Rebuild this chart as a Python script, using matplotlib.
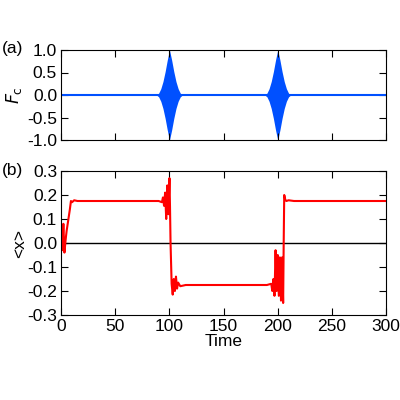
import numpy as np
import matplotlib.pyplot as plt

plt.rcParams['font.family'] = ['Liberation Sans', 'DejaVu Sans']
plt.rcParams['font.size'] = 12.5

# envelope of the driving pulses
pulse_centers = [100, 200]
pulse_offsets = [-12, -10, -8, -6, -4, -2, 0, 2, 4, 6, 8, 10, 12]
pulse_env = [0.0, 0.04, 0.14, 0.3, 0.52, 0.78, 1.0, 0.78, 0.52, 0.3, 0.14, 0.04, 0.0]

# <x> trace, panel (b)
t_x = [0, 1, 2, 3, 4, 5, 6, 7, 8, 9, 10, 12, 15, 90, 93, 94, 95, 96, 97, 98, 99,
       100, 100.5, 101, 102, 103, 104, 105, 106, 107, 108, 110, 115, 190, 194, 195,
       196, 197, 198, 199, 200, 201, 202, 203, 204, 205, 205.5, 206, 207, 208, 210,
       215, 300]
x_mean = [0.0, -0.03, 0.08, -0.04, 0.01, 0.05, 0.08, 0.11, 0.14, 0.175, 0.17, 0.178,
          0.175, 0.175, 0.17, 0.19, 0.155, 0.21, 0.1, 0.24, 0.12, 0.27, 0.15, 0.0,
          -0.17, -0.215, -0.15, -0.2, -0.14, -0.19, -0.165, -0.18, -0.175, -0.175,
          -0.17, -0.2, -0.15, -0.22, -0.03, -0.2, -0.05, -0.22, -0.06, -0.24, -0.06,
          -0.25, 0.0, 0.2, 0.18, 0.175, 0.178, 0.175, 0.175]

fig = plt.figure(figsize=(4, 4), dpi=100)
ax1 = fig.add_axes([0.153, 0.65, 0.812, 0.225])
ax2 = fig.add_axes([0.153, 0.2125, 0.812, 0.36])

blue = '#0050ff'
ax1.plot([0, 300], [0, 0], color=blue, lw=1.5)
for c in pulse_centers:
    t = [c + o for o in pulse_offsets]
    ax1.fill_between(t, [-e for e in pulse_env], pulse_env, color=blue, lw=0)
ax1.set_xlim(0, 300)
ax1.set_ylim(-1, 1)
ax1.set_yticks([-1, -0.5, 0, 0.5, 1])
ax1.set_yticklabels(['-1.0', '-0.5', '0.0', '0.5', '1.0'])
ax1.set_xticks([0, 50, 100, 150, 200, 250, 300])
ax1.set_xticklabels([])
ax1.set_ylabel(r'$F_\mathrm{c}$', labelpad=2)
fig.text(0.005, 0.88, '(a)', ha='left', va='center')

ax2.axhline(0, color='black', lw=1)
ax2.plot(t_x, x_mean, color='red', lw=1.5)
ax2.set_xlim(0, 300)
ax2.set_ylim(-0.3, 0.3)
yt = [-0.3, -0.2, -0.1, 0, 0.1, 0.2, 0.3]
ax2.set_yticks(yt)
ax2.set_yticklabels(['%.1f' % v for v in yt])
ax2.set_xticks([0, 50, 100, 150, 200, 250, 300])
ax2.set_xlabel('Time', labelpad=0)
ax2.set_ylabel('<x>', labelpad=0)
fig.text(0.005, 0.575, '(b)', ha='left', va='center')

for ax in (ax1, ax2):
    ax.tick_params(direction='in', top=True, right=True, length=5, pad=3)

fig.savefig('out.png', dpi=100)
